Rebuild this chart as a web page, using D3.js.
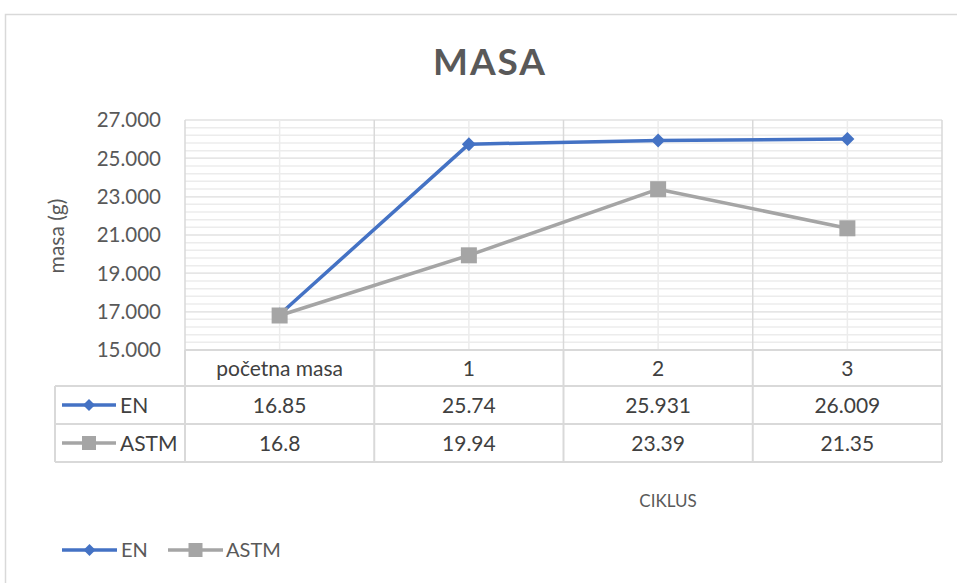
<!DOCTYPE html>
<html>
<head>
<meta charset="utf-8">
<script src="https://cdn.jsdelivr.net/npm/d3@7"></script>
<style>
  body { margin: 0; background: #fff; }
  svg { display: block; font-family: "Lato", "Open Sans", sans-serif; }
</style>
</head>
<body>
<svg id="chart" width="957" height="583"></svg>
<script>
// --- DATA ---
const categories = ["početna masa", "1", "2", "3"];
const enValues = [16.85, 25.74, 25.931, 26.009];
const astmValues = [16.8, 19.94, 23.39, 21.35];
const enLabels = ["16.85", "25.74", "25.931", "26.009"];
const astmLabels = ["16.8", "19.94", "23.39", "21.35"];
const yTicks = [15, 17, 19, 21, 23, 25, 27];

const series = [
    { name: "EN", values: enValues, labels: enLabels, color: "#4472C4", marker: "diamond" },
    { name: "ASTM", values: astmValues, labels: astmLabels, color: "#A5A5A5", marker: "square" }
];

// --- SETUP ---
const svg = d3.select("#chart");
const plot = { left: 185, right: 942, top: 120, bottom: 350 };
const textColor = "#595959";
const gridColor = "#d9d9d9";

// chart border
svg.append("rect")
    .attr("x", 5.5).attr("y", 14.5)
    .attr("width", 960).attr("height", 600)
    .attr("fill", "none").attr("stroke", gridColor).attr("stroke-width", 1.5);

const x = d3.scaleBand().domain(categories).range([plot.left, plot.right]);
const y = d3.scaleLinear().domain([15, 27]).range([plot.bottom, plot.top]);

// --- GRID ---
const grid = svg.append("g");
const minorTicks = d3.range(15, 27.001, 0.4);
grid.selectAll(".minor")
    .data(minorTicks)
    .join("line")
    .attr("x1", plot.left).attr("x2", plot.right)
    .attr("y1", d => y(d)).attr("y2", d => y(d))
    .attr("stroke", "#ececec").attr("stroke-width", 1.5);
grid.selectAll(".major")
    .data(yTicks)
    .join("line")
    .attr("x1", plot.left).attr("x2", plot.right)
    .attr("y1", d => y(d)).attr("y2", d => y(d))
    .attr("stroke", "#e6e6e6").attr("stroke-width", 1.5);
// category center lines
grid.selectAll(".vcenter")
    .data(categories)
    .join("line")
    .attr("x1", d => x(d) + x.bandwidth() / 2).attr("x2", d => x(d) + x.bandwidth() / 2)
    .attr("y1", plot.top).attr("y2", plot.bottom)
    .attr("stroke", "#ececec").attr("stroke-width", 1.5);
// category boundary lines
const bounds = categories.map(d => x(d)).concat([plot.right]);
grid.selectAll(".vbound")
    .data(bounds)
    .join("line")
    .attr("x1", d => d).attr("x2", d => d)
    .attr("y1", plot.top).attr("y2", plot.bottom)
    .attr("stroke", gridColor).attr("stroke-width", 1.5);

// --- Y AXIS ---
const fmt = d3.format(".3f");
svg.append("g")
    .selectAll("text")
    .data(yTicks)
    .join("text")
    .attr("x", 161)
    .attr("y", d => y(d))
    .attr("dy", "0.36em")
    .attr("text-anchor", "end")
    .attr("font-size", "20.5px")
    .attr("fill", textColor)
    .text(d => fmt(d));

svg.append("text")
    .attr("transform", "translate(64,236) rotate(-90)")
    .attr("text-anchor", "middle")
    .attr("font-size", "21px")
    .attr("fill", textColor)
    .text("masa (g)");

// --- TITLE ---
svg.append("text")
    .attr("x", 490).attr("y", 75)
    .attr("text-anchor", "middle")
    .attr("font-size", "37px")
    .attr("font-weight", "bold")
    .attr("letter-spacing", "2px")
    .attr("fill", textColor)
    .text("MASA");

// --- LINES ---
const line = d3.line()
    .x((d, i) => x(categories[i]) + x.bandwidth() / 2)
    .y(d => y(d));

function drawMarker(g, type, cx, cy, color, size) {
    if (type === "diamond") {
        g.append("path")
            .attr("d", `M${cx},${cy - size}L${cx + size},${cy}L${cx},${cy + size}L${cx - size},${cy}Z`)
            .attr("fill", color);
    } else {
        g.append("rect")
            .attr("x", cx - size).attr("y", cy - size)
            .attr("width", size * 2).attr("height", size * 2)
            .attr("fill", color);
    }
}

series.forEach(s => {
    const g = svg.append("g");
    g.append("path")
        .datum(s.values)
        .attr("d", line)
        .attr("fill", "none")
        .attr("stroke", s.color)
        .attr("stroke-width", 3.5)
        .attr("stroke-linejoin", "round");
    s.values.forEach((v, i) => {
        drawMarker(g, s.marker, x(categories[i]) + x.bandwidth() / 2, y(v), s.color, s.marker === "diamond" ? 7 : 8);
    });
});

// --- DATA TABLE ---
const table = svg.append("g");
const rowY = [350, 386, 424, 462];
const tableLeft = 55;
const tableText = "#404040";
// horizontal lines
table.append("line")
    .attr("x1", plot.left).attr("x2", plot.right)
    .attr("y1", rowY[0]).attr("y2", rowY[0])
    .attr("stroke", gridColor).attr("stroke-width", 2);
rowY.slice(1).forEach(ry => {
    table.append("line")
        .attr("x1", tableLeft).attr("x2", plot.right)
        .attr("y1", ry).attr("y2", ry)
        .attr("stroke", gridColor).attr("stroke-width", 2);
});
// vertical lines
bounds.forEach(bx => {
    table.append("line")
        .attr("x1", bx).attr("x2", bx)
        .attr("y1", rowY[0]).attr("y2", rowY[3])
        .attr("stroke", gridColor).attr("stroke-width", 2);
});
table.append("line")
    .attr("x1", tableLeft).attr("x2", tableLeft)
    .attr("y1", rowY[1]).attr("y2", rowY[3])
    .attr("stroke", gridColor).attr("stroke-width", 2);

// header row
table.selectAll(".cat")
    .data(categories)
    .join("text")
    .attr("x", d => x(d) + x.bandwidth() / 2)
    .attr("y", (rowY[0] + rowY[1]) / 2)
    .attr("dy", "0.36em")
    .attr("text-anchor", "middle")
    .attr("font-size", "21px")
    .attr("fill", tableText)
    .text(d => d);

series.forEach((s, si) => {
    const cy = (rowY[si + 1] + rowY[si + 2]) / 2;
    table.append("line")
        .attr("x1", 62).attr("x2", 116)
        .attr("y1", cy).attr("y2", cy)
        .attr("stroke", s.color).attr("stroke-width", 3.5);
    drawMarker(table, s.marker, 89, cy, s.color, s.marker === "diamond" ? 6 : 7);
    table.append("text")
        .attr("x", 120).attr("y", cy).attr("dy", "0.36em")
        .attr("font-size", "21px").attr("fill", tableText)
        .text(s.name);
    table.selectAll(null)
        .data(s.labels)
        .join("text")
        .attr("x", (d, i) => x(categories[i]) + x.bandwidth() / 2)
        .attr("y", cy).attr("dy", "0.36em")
        .attr("text-anchor", "middle")
        .attr("font-size", "21px").attr("fill", tableText)
        .text(d => d);
});

// --- X AXIS TITLE ---
svg.append("text")
    .attr("x", 668).attr("y", 501).attr("dy", "0.36em")
    .attr("text-anchor", "middle")
    .attr("font-size", "17px").attr("fill", textColor)
    .text("CIKLUS");

// --- LEGEND ---
const legend = svg.append("g");
const legendItems = [
    { s: series[0], x0: 62, x1: 117, tx: 121 },
    { s: series[1], x0: 168, x1: 223, tx: 226 }
];
legendItems.forEach(it => {
    const ly = 550;
    legend.append("line")
        .attr("x1", it.x0).attr("x2", it.x1)
        .attr("y1", ly).attr("y2", ly)
        .attr("stroke", it.s.color).attr("stroke-width", 3.5);
    drawMarker(legend, it.s.marker, (it.x0 + it.x1) / 2, ly, it.s.color, it.s.marker === "diamond" ? 6 : 7);
    legend.append("text")
        .attr("x", it.tx).attr("y", ly).attr("dy", "0.36em")
        .attr("font-size", "20px").attr("fill", textColor)
        .text(it.s.name);
});
</script>
</body>
</html>
